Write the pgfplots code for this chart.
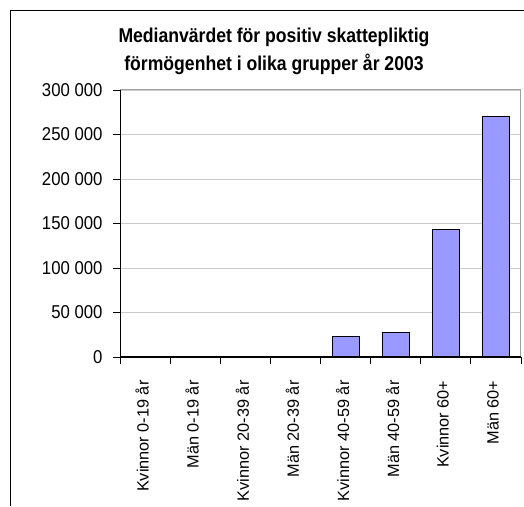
\documentclass[border=0pt]{standalone}
\usepackage{pgfplots}
\pgfplotsset{compat=1.18}
\usepackage{fontspec}
\setmainfont{Liberation Sans}
\newfontfamily\titlefont[FakeStretch=0.88]{Liberation Sans}
\newfontfamily\tickfont[FakeStretch=0.9]{Liberation Sans}
\definecolor{barfill}{HTML}{9999FF}
\definecolor{gridgray}{HTML}{CCCCCC}
\definecolor{framegray}{HTML}{A0A0A0}
\begin{document}
\begin{tikzpicture}
\useasboundingbox (0pt,0pt) rectangle (524pt,506pt);
% outer chart frame (cropped on the right and bottom)
\draw[line width=1.2pt] (10.5pt,0pt) -- (10.5pt,495.5pt) -- (524pt,495.5pt);
\node[anchor=base, font=\titlefont\bfseries\fontsize{20}{24}\selectfont] at (274pt,463pt) {Medianvärdet för positiv skattepliktig};
\node[anchor=base, font=\titlefont\bfseries\fontsize{20}{24}\selectfont] at (274pt,435pt) {förmögenhet i olika grupper år 2003};
\begin{axis}[
    at={(120pt,149pt)}, anchor=south west,
    scale only axis,
    width=401pt, height=267pt,
    ybar, bar width=27pt,
    xmin=-0.5, xmax=7.5,
    ymin=0, ymax=300000,
    scaled y ticks=false,
    xtick={0,...,7},
    xticklabels={Kvinnor 0-19 år, Män 0-19 år, Kvinnor 20-39 år, Män 20-39 år,
                 Kvinnor 40-59 år, Män 40-59 år, Kvinnor 60+, Män 60+},
    major x tick style={draw=none},
    minor xtick={-0.5,0.5,...,7.5},
    ytick={0,50000,...,300000},
    yticklabels={0, 50 000, 100 000, 150 000, 200 000, 250 000, 300 000},
    tick pos=left,
    tick align=outside,
    major tick length=7pt, minor tick length=7pt,
    tick style={black, line width=0.8pt},
    ymajorgrids,
    grid style={gridgray, line width=0.9pt},
    axis line style={framegray, line width=1pt},
    xticklabel style={rotate=90, anchor=east, xshift=-13pt, yshift=3pt,
                      font=\fontsize{16.3}{19}\selectfont},
    yticklabel style={xshift=-7pt, font=\tickfont\fontsize{18.6}{22}\selectfont},
]
\addplot[fill=barfill, draw=black, line width=1pt]
    coordinates {(0,0) (1,0) (2,0) (3,0) (4,23000) (5,27000) (6,143000) (7,270000)};
\draw[black, line width=1.2pt] (rel axis cs:0,1) -- (rel axis cs:0,0) -- (rel axis cs:1,0);
\end{axis}
\end{tikzpicture}
\end{document}
